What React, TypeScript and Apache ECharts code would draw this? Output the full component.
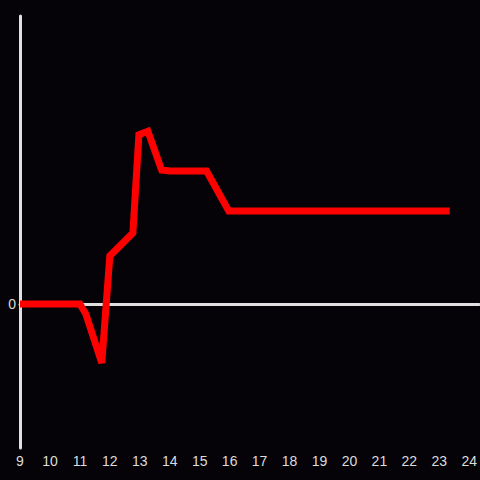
import React, { useEffect, useRef } from "react";
import * as echarts from "echarts";

const hours: number[] = [9, 11, 11.2, 11.73, 12, 12.77, 12.97, 13.27, 13.73, 14, 15.23, 15.97, 23.35];
const values: number[] = [0, 0, -3.5, -20.5, 16.7, 24.7, 58.8, 60, 46.5, 46.2, 46.2, 32.3, 32.3];

export default function App() {
  const ref = useRef<HTMLDivElement>(null);
  useEffect(() => {
    if (!ref.current) return;
    const chart = echarts.init(ref.current, null, { renderer: "svg" });
    const data = hours.map((h, i) => [h, values[i]]);
    const labelColor = "#dcdcdc";
    const axisColor = "#e0e0e0";
    chart.setOption({
      animation: false,
      backgroundColor: "#050307",
      grid: { left: 20, right: 0, top: 16, bottom: 32 },
      xAxis: [
        {
          type: "value",
          min: 9,
          max: 9 + 460 / 30,
          interval: 1,
          position: "bottom",
          axisLine: { show: false, onZero: false },
          axisTick: { show: false },
          splitLine: { show: false },
          axisLabel: {
            color: labelColor,
            fontSize: 14,
            fontFamily: "Liberation Sans, Arial, sans-serif",
            margin: 6,
            showMaxLabel: false,
            formatter: (v: number) => (Number.isInteger(v) ? String(v) : ""),
          },
        },
        {
          type: "value",
          min: 9,
          max: 9 + 460 / 30,
          interval: 1,
          position: "top",
          axisLine: { show: true, onZero: true, lineStyle: { color: axisColor, width: 3 } },
          axisTick: { show: false },
          splitLine: { show: false },
          axisLabel: { show: false },
        },
      ],
      yAxis: {
        type: "value",
        min: -50,
        max: 100,
        interval: 50,
        axisLine: { show: true, onZero: false, lineStyle: { color: axisColor, width: 3 } },
        axisTick: { show: false },
        splitLine: { show: false },
        axisLabel: {
          color: labelColor,
          fontSize: 14,
          fontFamily: "Liberation Sans, Arial, sans-serif",
          margin: 4,
          formatter: (v: number) => (v === 0 ? "0" : ""),
        },
      },
      series: [
        {
          type: "line",
          xAxisIndex: 0,
          data,
          showSymbol: false,
          symbol: "none",
          lineStyle: { color: "#ff0000", width: 7, cap: "butt", join: "miter" },
        },
      ],
    });
    return () => chart.dispose();
  }, []);
  return (
    <div
      ref={ref}
      style={{ position: "fixed", left: 0, top: 0, width: 480, height: 480 }}
    />
  );
}
